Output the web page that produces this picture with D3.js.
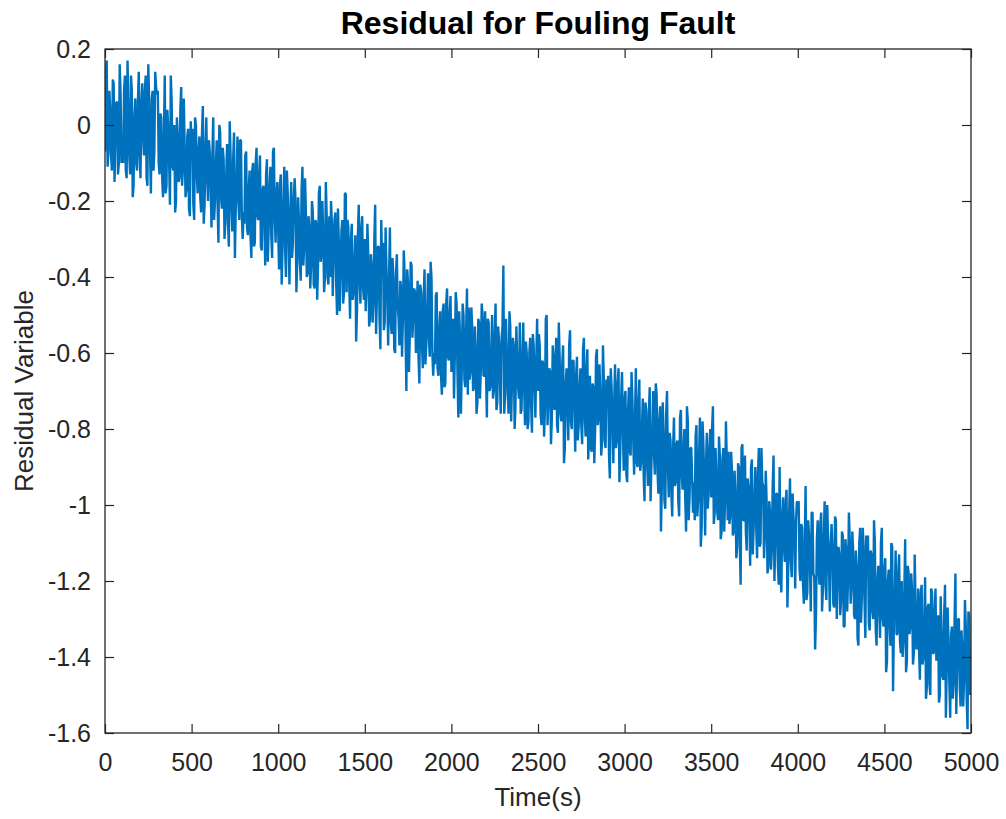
<!DOCTYPE html>
<html><head><meta charset="utf-8">
<script src="https://cdn.jsdelivr.net/npm/d3@7"></script>
<style>
body{margin:0;background:#fff}
svg{display:block}
text{font-family:"Liberation Sans",Arial,Helvetica,sans-serif;fill:#262626}
</style>
</head><body>
<svg id="chart" width="1006" height="819"></svg>
<script>
const titleText = "Residual for Fouling Fault";
const xLabelText = "Time(s)";
const yLabelText = "Residual Variable";
const xTicks = [0, 500, 1000, 1500, 2000, 2500, 3000, 3500, 4000, 4500, 5000];
const xTickLabels = ["0","500","1000","1500","2000","2500","3000","3500","4000","4500","5000"];
const yTicks = [0.2, 0, -0.2, -0.4, -0.6, -0.8, -1, -1.2, -1.4, -1.6];
const yTickLabels = ["0.2","0","-0.2","-0.4","-0.6","-0.8","-1","-1.2","-1.4","-1.6"];
const sampleStep = 10; // seconds between samples of each array
// samples read at t = 0, 10, 20, ... 5000 s
const residualEven = [
-0.07,0.17,-0.07,0.04,-0.12,0.11,-0.03,0.06,-0.10,0.08,
-0.03,0.09,-0.12,0.17,-0.08,0.13,-0.19,0.02,-0.10,0.06,
-0.08,0.06,-0.03,0.09,-0.14,0.16,-0.07,0.07,-0.12,0.14,
0.08,-0.10,0.03,-0.14,-0.04,-0.18,0.04,-0.09,0.13,-0.11,
0.00,-0.20,-0.03,-0.14,0.10,-0.11,-0.06,-0.17,-0.01,-0.24,
-0.05,-0.21,0.02,-0.13,-0.07,-0.19,-0.02,-0.26,-0.06,-0.14,
-0.04,-0.16,-0.08,-0.25,-0.11,-0.21,0.00,-0.19,-0.06,-0.30,
-0.13,-0.25,0.01,-0.22,-0.09,-0.35,-0.14,-0.20,-0.04,-0.24,
-0.23,-0.08,-0.27,-0.17,-0.29,-0.12,-0.32,-0.10,-0.24,-0.13,
-0.32,-0.17,-0.25,-0.13,-0.36,-0.16,-0.29,-0.07,-0.24,-0.18,
-0.28,-0.16,-0.42,-0.21,-0.33,-0.12,-0.30,-0.23,-0.35,-0.19,
-0.20,-0.36,-0.25,-0.41,-0.11,-0.32,-0.23,-0.39,-0.27,-0.37,
-0.23,-0.43,-0.26,-0.37,-0.16,-0.34,-0.29,-0.40,-0.24,-0.42,
-0.40,-0.26,-0.35,-0.23,-0.50,-0.31,-0.39,-0.25,-0.44,-0.18,
-0.25,-0.42,-0.30,-0.46,-0.36,-0.57,-0.29,-0.41,-0.27,-0.43,
-0.30,-0.42,-0.34,-0.51,-0.37,-0.47,-0.21,-0.45,-0.32,-0.59,
-0.38,-0.54,-0.27,-0.46,-0.40,-0.52,-0.35,-0.59,-0.39,-0.47,
-0.58,-0.43,-0.51,-0.39,-0.70,-0.42,-0.55,-0.37,-0.50,-0.44,
-0.49,-0.61,-0.42,-0.58,-0.45,-0.63,-0.50,-0.56,-0.36,-0.60,
-0.60,-0.45,-0.64,-0.54,-0.66,-0.49,-0.69,-0.47,-0.61,-0.50,
-0.65,-0.51,-0.60,-0.47,-0.77,-0.56,-0.64,-0.50,-0.69,-0.43,
-0.48,-0.65,-0.53,-0.69,-0.59,-0.73,-0.52,-0.64,-0.50,-0.66,
-0.66,-0.51,-0.70,-0.60,-0.72,-0.55,-0.75,-0.53,-0.67,-0.56,
-0.37,-0.71,-0.60,-0.76,-0.53,-0.67,-0.58,-0.74,-0.62,-0.72,
-0.76,-0.61,-0.69,-0.57,-0.80,-0.60,-0.73,-0.55,-0.68,-0.62,
-0.70,-0.58,-0.79,-0.63,-0.75,-0.50,-0.72,-0.65,-0.77,-0.61,
-0.67,-0.79,-0.52,-0.76,-0.63,-0.89,-0.68,-0.74,-0.58,-0.78,
-0.62,-0.74,-0.66,-0.83,-0.69,-0.79,-0.59,-0.77,-0.64,-0.88,
-0.66,-0.86,-0.69,-0.80,-0.59,-0.77,-0.72,-0.83,-0.67,-0.85,
-0.71,-0.87,-0.64,-0.79,-0.73,-0.85,-0.68,-0.94,-0.72,-0.80,
-0.72,-0.92,-0.75,-0.86,-0.65,-0.83,-0.78,-0.89,-0.73,-0.91,
-0.80,-0.92,-0.73,-0.89,-0.76,-0.99,-0.81,-0.87,-0.68,-0.91,
-0.78,-1.07,-0.73,-0.99,-0.76,-0.90,-0.81,-0.97,-0.85,-0.95,
-0.84,-0.99,-0.77,-0.92,-0.86,-0.98,-0.74,-1.04,-0.85,-0.93,
-0.94,-0.82,-1.03,-0.87,-1.11,-0.78,-0.96,-0.89,-1.01,-0.85,
-0.98,-0.74,-1.02,-0.92,-1.04,-0.87,-1.07,-0.85,-0.99,-0.88,
-0.86,-1.03,-0.91,-1.07,-0.97,-1.11,-0.90,-1.21,-0.84,-1.04,
-1.07,-0.93,-1.02,-0.90,-1.13,-0.98,-1.06,-0.92,-1.11,-0.85,
-0.95,-1.07,-0.99,-1.16,-1.02,-1.12,-0.87,-1.10,-0.97,-1.21,
-1.18,-1.03,-1.11,-0.99,-1.27,-1.02,-1.15,-0.97,-1.10,-1.04,
-1.00,-1.17,-1.05,-1.21,-1.11,-1.25,-1.04,-1.16,-1.02,-1.18,
-1.38,-1.09,-1.17,-1.05,-1.28,-1.08,-1.21,-1.00,-1.16,-1.10,
-1.11,-1.27,-1.04,-1.19,-1.13,-1.25,-1.08,-1.32,-1.12,-1.20,
-1.09,-1.21,-1.13,-1.30,-1.16,-1.37,-1.06,-1.24,-1.11,-1.35,
-1.19,-1.31,-1.12,-1.28,-1.04,-1.33,-1.20,-1.26,-1.10,-1.30,
-1.17,-1.44,-1.20,-1.31,-1.10,-1.49,-1.23,-1.34,-1.18,-1.36,
-1.20,-1.36,-1.09,-1.41,-1.18,-1.32,-1.23,-1.39,-1.27,-1.37,
-1.38,-1.23,-1.42,-1.32,-1.51,-1.27,-1.47,-1.22,-1.39,-1.28,
-1.41,-1.29,-1.50,-1.34,-1.46,-1.21,-1.43,-1.36,-1.56,-1.32,
-1.47,-1.18,-1.42,-1.30,-1.53,-1.38,-1.46,-1.32,-1.59,-1.29,
-1.40
];
// samples read at t = 5, 15, 25, ... 4995 s
const residualOdd = [
0.14,-0.11,0.09,-0.08,0.12,-0.15,0.06,-0.13,0.16,-0.10,
-0.10,0.13,-0.14,0.05,-0.13,0.09,-0.16,0.07,-0.12,0.14,
-0.14,0.11,-0.08,0.13,-0.16,0.06,-0.18,0.09,-0.07,0.10,
0.09,-0.13,0.02,-0.19,0.13,-0.16,-0.01,-0.21,0.06,-0.12,
-0.23,0.02,-0.15,0.04,-0.16,0.07,-0.19,-0.03,-0.22,0.01,
-0.01,-0.25,0.00,-0.18,-0.03,-0.23,0.05,-0.21,0.02,-0.20,
-0.07,-0.27,0.02,-0.20,-0.04,-0.31,-0.02,-0.22,-0.09,-0.26,
-0.05,-0.32,-0.08,-0.28,-0.02,-0.22,-0.03,-0.25,-0.04,-0.30,
-0.26,-0.07,-0.29,-0.12,-0.35,-0.10,-0.31,-0.06,-0.25,-0.08,
-0.33,-0.16,-0.37,-0.09,-0.27,-0.11,-0.35,-0.06,-0.31,-0.15,
-0.38,-0.13,-0.32,-0.11,-0.40,-0.18,-0.42,-0.15,-0.31,-0.14,
-0.44,-0.19,-0.36,-0.17,-0.37,-0.14,-0.40,-0.24,-0.43,-0.20,
-0.42,-0.25,-0.46,-0.18,-0.36,-0.20,-0.44,-0.15,-0.40,-0.24,
-0.20,-0.45,-0.25,-0.42,-0.22,-0.49,-0.28,-0.47,-0.18,-0.44,
-0.27,-0.51,-0.26,-0.44,-0.29,-0.49,-0.21,-0.47,-0.24,-0.46,
-0.49,-0.26,-0.53,-0.34,-0.52,-0.30,-0.55,-0.32,-0.51,-0.25,
-0.31,-0.52,-0.38,-0.58,-0.27,-0.55,-0.40,-0.60,-0.34,-0.51,
-0.41,-0.61,-0.33,-0.54,-0.38,-0.65,-0.36,-0.56,-0.43,-0.60,
-0.41,-0.68,-0.44,-0.64,-0.38,-0.58,-0.39,-0.61,-0.40,-0.66,
-0.63,-0.44,-0.66,-0.49,-0.71,-0.47,-0.68,-0.43,-0.62,-0.45,
-0.52,-0.72,-0.44,-0.65,-0.49,-0.76,-0.47,-0.67,-0.54,-0.71,
-0.67,-0.48,-0.70,-0.53,-0.76,-0.51,-0.72,-0.47,-0.66,-0.49,
-0.77,-0.52,-0.69,-0.50,-0.70,-0.47,-0.73,-0.57,-0.76,-0.53,
-0.76,-0.51,-0.70,-0.49,-0.78,-0.56,-0.80,-0.53,-0.69,-0.52,
-0.75,-0.52,-0.79,-0.60,-0.78,-0.56,-0.81,-0.58,-0.77,-0.51,
-0.55,-0.76,-0.62,-0.82,-0.51,-0.79,-0.64,-0.84,-0.58,-0.75,
-0.56,-0.81,-0.61,-0.78,-0.58,-0.85,-0.64,-0.83,-0.54,-0.80,
-0.62,-0.86,-0.61,-0.79,-0.64,-0.84,-0.56,-0.82,-0.59,-0.81,
-0.85,-0.68,-0.89,-0.61,-0.79,-0.63,-0.87,-0.58,-0.83,-0.67,
-0.66,-0.93,-0.69,-0.89,-0.63,-0.83,-0.64,-0.86,-0.65,-0.91,
-0.70,-0.94,-0.69,-0.87,-0.72,-0.92,-0.64,-0.90,-0.67,-0.89,
-0.72,-0.99,-0.75,-0.95,-0.69,-0.89,-0.70,-0.92,-0.71,-0.97,
-0.74,-0.95,-0.81,-1.01,-0.70,-0.98,-0.83,-1.03,-0.77,-0.94,
-0.83,-1.03,-0.75,-0.96,-0.80,-1.07,-0.78,-0.98,-0.85,-1.02,
-1.04,-0.79,-0.98,-0.77,-1.06,-0.84,-1.08,-0.81,-0.97,-0.80,
-0.80,-1.05,-0.85,-1.02,-0.82,-1.09,-0.88,-1.07,-0.78,-1.04,
-1.05,-0.86,-1.08,-0.91,-1.14,-0.89,-1.10,-0.85,-1.04,-0.87,
-1.12,-0.95,-1.16,-0.88,-1.06,-0.90,-1.14,-0.85,-1.10,-0.94,
-1.14,-0.91,-1.18,-0.99,-1.17,-0.95,-1.20,-0.97,-1.16,-0.90,
-1.23,-0.98,-1.15,-0.96,-1.16,-0.93,-1.19,-1.03,-1.22,-0.99,
-0.99,-1.20,-1.06,-1.26,-0.95,-1.23,-1.08,-1.28,-1.02,-1.19,
-1.29,-1.04,-1.21,-1.02,-1.22,-0.99,-1.25,-1.09,-1.28,-1.05,
-1.26,-1.03,-1.30,-1.11,-1.29,-1.07,-1.32,-1.09,-1.28,-1.02,
-1.26,-1.07,-1.29,-1.12,-1.35,-1.10,-1.31,-1.06,-1.25,-1.08,
-1.08,-1.33,-1.13,-1.30,-1.10,-1.37,-1.16,-1.35,-1.06,-1.32,
-1.14,-1.41,-1.17,-1.37,-1.11,-1.31,-1.12,-1.34,-1.13,-1.39,
-1.40,-1.23,-1.44,-1.16,-1.34,-1.18,-1.42,-1.13,-1.38,-1.22,
-1.46,-1.21,-1.40,-1.19,-1.48,-1.26,-1.50,-1.23,-1.39,-1.22,
-1.32,-1.52,-1.24,-1.45,-1.29,-1.56,-1.27,-1.47,-1.34,-1.51,
-1.31,-1.55,-1.30,-1.48,-1.33,-1.53,-1.25,-1.51,-1.28,-1.50
];

// combine both sample sets in time order
const series = [];
residualEven.forEach((v, i) => {
  series.push({t: i * sampleStep, v: v});
  if (i < residualOdd.length) series.push({t: i * sampleStep + sampleStep / 2, v: residualOdd[i]});
});

const W = 1006, H = 819;
const plot = {left: 105, right: 971, top: 49, bottom: 733};
const svg = d3.select("#chart");

const x = d3.scaleLinear().domain([0, 5000]).range([plot.left, plot.right]);
const y = d3.scaleLinear().domain([-1.6, 0.2]).range([plot.bottom, plot.top]);

svg.append("rect").attr("width", W).attr("height", H).attr("fill", "#fff");

svg.append("clipPath").attr("id", "clip").append("rect")
  .attr("x", plot.left).attr("y", plot.top)
  .attr("width", plot.right - plot.left).attr("height", plot.bottom - plot.top);

const line = d3.line().x(d => x(d.t)).y(d => y(d.v));
svg.append("path").datum(series)
  .attr("clip-path", "url(#clip)")
  .attr("fill", "none").attr("stroke", "#0072BD")
  .attr("stroke-width", 2.4)
  .attr("stroke-linejoin", "bevel")
  .attr("d", line);

const tickLen = 9;
const axisColor = "#262626";
function styleAxis(g) {
  g.select(".domain").remove();
  g.selectAll(".tick line").attr("stroke", axisColor).attr("stroke-width", 1.2);
  g.selectAll(".tick text").style("fill", axisColor).style("font-size", "25px")
   .style("font-family", '"Liberation Sans",Arial,sans-serif');
}

svg.append("g").attr("transform", `translate(0,${plot.bottom})`)
  .call(d3.axisBottom(x).tickValues(xTicks).tickFormat((d, i) => xTickLabels[i])
    .tickSizeInner(-tickLen).tickSizeOuter(0).tickPadding(20))
  .call(styleAxis);
svg.append("g").attr("transform", `translate(0,${plot.top})`)
  .call(d3.axisTop(x).tickValues(xTicks).tickFormat("")
    .tickSizeInner(-tickLen).tickSizeOuter(0))
  .call(styleAxis);
svg.append("g").attr("transform", `translate(${plot.left},0)`)
  .call(d3.axisLeft(y).tickValues(yTicks).tickFormat((d, i) => yTickLabels[i])
    .tickSizeInner(-tickLen).tickSizeOuter(0).tickPadding(14))
  .call(styleAxis);
svg.append("g").attr("transform", `translate(${plot.right},0)`)
  .call(d3.axisRight(y).tickValues(yTicks).tickFormat("")
    .tickSizeInner(-tickLen).tickSizeOuter(0))
  .call(styleAxis);

svg.append("rect")
  .attr("x", plot.left).attr("y", plot.top)
  .attr("width", plot.right - plot.left).attr("height", plot.bottom - plot.top)
  .attr("fill", "none").attr("stroke", axisColor).attr("stroke-width", 1.3);

svg.append("text").attr("x", (plot.left + plot.right) / 2).attr("y", 34)
  .attr("text-anchor", "middle").style("font-size", "32px").style("font-weight", "bold")
  .style("fill", "#000").text(titleText);

svg.append("text").attr("x", (plot.left + plot.right) / 2).attr("y", 806)
  .attr("text-anchor", "middle").style("font-size", "26px").text(xLabelText);

svg.append("text")
  .attr("transform", `translate(33,${(plot.top + plot.bottom) / 2}) rotate(-90)`)
  .attr("text-anchor", "middle").style("font-size", "26px").text(yLabelText);
</script>
</body></html>
